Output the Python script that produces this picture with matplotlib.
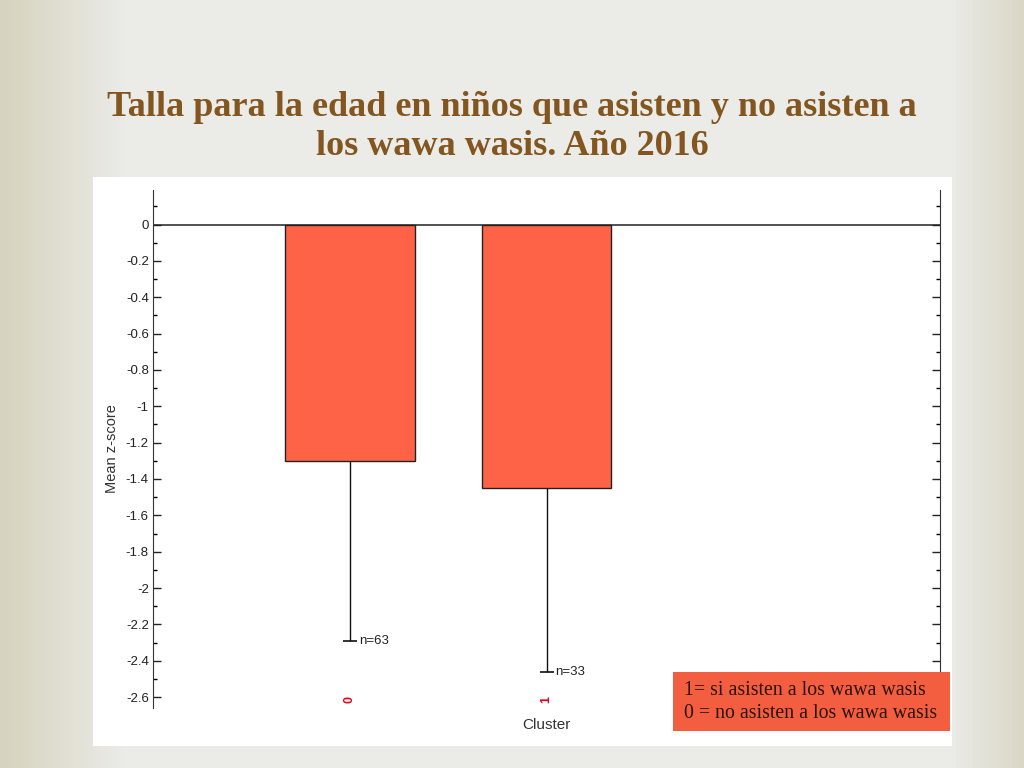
import numpy as np
import matplotlib
matplotlib.use('Agg')
import matplotlib.pyplot as plt
from matplotlib.patches import Rectangle
from matplotlib.ticker import MultipleLocator

# datos
clusters = ['0', '1']
mean_z = [-1.30, -1.45]
sd_z = [0.99, 1.01]
n_labels = ['n=63', 'n=33']

title = 'Talla para la edad en niños que asisten y no asisten a\nlos wawa wasis. Año 2016'
note = '1= si asisten a los wawa wasis\n0 = no asisten a los wawa wasis'

W, H = 1024, 768
fig = plt.figure(figsize=(W / 100, H / 100), dpi=100)

# fondo de la diapositiva (degradado beige a gris claro)
bg = fig.add_axes([0, 0, 1, 1], zorder=-10)
xs = np.linspace(0, 1, 256)
base = np.array([235, 235, 232]) / 255
edge = np.array([214, 211, 190]) / 255
left = np.clip(1 - xs / 0.12, 0, 1)
right = np.clip((xs - 0.93) / 0.07, 0, 1) * 0.8
w = np.maximum(left, right)[None, :, None]
img = base * (1 - w) + edge * w
bg.imshow(np.repeat(img, 4, axis=0), aspect='auto', extent=[0, 1, 0, 1])
bg.axis('off')

# panel blanco
fig.patches.append(Rectangle((93 / W, 1 - 746 / H), 859 / W, 569 / H,
                             transform=fig.transFigure, facecolor='white',
                             edgecolor='none', zorder=-5))

fig.text(0.5, 1 - 127 / H, title, ha='center', va='center',
         fontsize=26, fontweight='bold', family='Liberation Serif',
         color='#83551f', linespacing=1.27)

ax = fig.add_axes([153 / W, 1 - 708 / H, 787 / W, 518 / H])
ax.set_facecolor('none')
x = np.arange(len(clusters))
lower = [m - s for m, s in zip(mean_z, sd_z)]
ax.bar(x, mean_z, width=0.66, color='#ff6347', edgecolor='#222222', linewidth=1, zorder=2)
ax.vlines(x, lower, mean_z, color='#111111', linewidth=1, zorder=3)
ax.plot(x, lower, linestyle='none', marker='_', markersize=10,
        markeredgewidth=1.2, color='#111111', zorder=3)
for xi, lo, lab in zip(x, lower, n_labels):
    ax.annotate(lab, (xi, lo), xytext=(6.5, 0), textcoords='offset points',
                va='center', ha='left', fontsize=9.5, family='Liberation Sans',
                color='#222222')
    ax.text(xi, 0.016, clusters[xi], transform=ax.get_xaxis_transform(),
            rotation=90, ha='center', va='center', color='#e3001b',
            fontsize=9, fontweight='bold', family='Liberation Sans')

ax.axhline(0, color='#333333', linewidth=1.2, zorder=1)
ax.set_xlim(-1, 3)
ax.set_ylim(-2.66, 0.19)
ax.set_xticks([])
ax.yaxis.set_major_locator(MultipleLocator(0.2))
ax.yaxis.set_minor_locator(MultipleLocator(0.1))
ticks = np.arange(-2.6, 0.01, 0.2)
ax.set_yticks(ticks)
ax.set_yticklabels(['%g' % round(v, 1) for v in ticks],
                   family='Liberation Sans', fontsize=9.5, color='#222222')
ax.tick_params(axis='y', which='major', direction='in', length=6, width=1,
               right=True, pad=3, colors='#222222', labelcolor='#222222')
ax.tick_params(axis='y', which='minor', direction='in', length=3, width=1, right=True)
for side in ['top', 'bottom']:
    ax.spines[side].set_visible(False)
for side in ['left', 'right']:
    ax.spines[side].set_color('#333333')
ax.set_ylabel('Mean z-score', family='Liberation Sans', fontsize=10.5,
              color='#333333', labelpad=5)
ax.set_xlabel('Cluster', family='Liberation Sans', fontsize=11,
              color='#333333', labelpad=7)

# recuadro de notas
fig.patches.append(Rectangle((673 / W, 1 - 731 / H), 277 / W, 59 / H,
                             transform=fig.transFigure, facecolor='#f45e40',
                             edgecolor='none', zorder=5))
fig.text(684 / W, 1 - 702 / H, note, ha='left', va='center', fontsize=14.3,
         family='Liberation Serif', color='#2a1208', linespacing=1.3, zorder=6)

fig.savefig('out.png', dpi=100)
